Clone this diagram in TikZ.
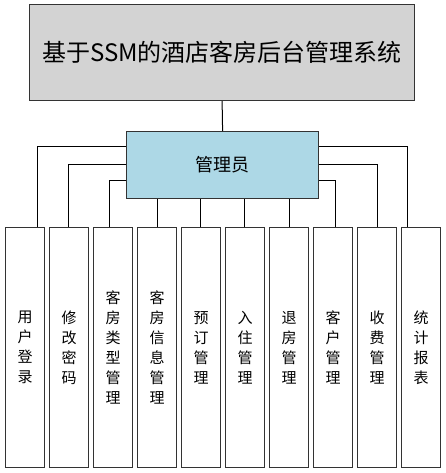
\documentclass[tikz,border=0pt]{standalone}
\usepackage{fontspec}
\setmainfont{Noto Sans CJK SC}
\definecolor{topfill}{HTML}{D3D3D3}
\definecolor{adminfill}{HTML}{ADD8E6}
\definecolor{edge}{HTML}{333333}
\begin{document}
\begin{tikzpicture}[x=1pt,y=-1pt,
  box/.style={draw=edge, line width=1.2pt, inner sep=0pt, anchor=north west},
  leaf/.style={box, fill=white, minimum width=39pt, minimum height=240pt, align=center,
    font=\fontsize{15}{20}\selectfont},
  conn/.style={line width=1pt, draw=black}]
\useasboundingbox (0,0) rectangle (445,473);
\node[box, fill=topfill, minimum width=385pt, minimum height=96pt,
  font=\fontsize{24}{28}\selectfont] (top) at (29,4) {基于SSM的酒店客房后台管理系统};
\node[box, fill=adminfill, minimum width=192pt, minimum height=67pt,
  font=\fontsize{18}{22}\selectfont] (admin) at (126,131) {管理员};
\node[leaf] (l1) at (5,227) {用\\户\\登\\录};
\node[leaf] (l2) at (49,227) {修\\改\\密\\码};
\node[leaf] (l3) at (93,227) {客\\房\\类\\型\\管\\理};
\node[leaf] (l4) at (137,227) {客\\房\\信\\息\\管\\理};
\node[leaf] (l5) at (181,227) {预\\订\\管\\理};
\node[leaf] (l6) at (225,227) {入\\住\\管\\理};
\node[leaf] (l7) at (269,227) {退\\房\\管\\理};
\node[leaf] (l8) at (313,227) {客\\户\\管\\理};
\node[leaf] (l9) at (357,227) {收\\费\\管\\理};
\node[leaf] (l10) at (401,227) {统\\计\\报\\表};
\coordinate (c1) at (37,147);
\coordinate (c2) at (68,164);
\coordinate (c3) at (109,180);
\coordinate (c4) at (157,0);
\coordinate (c5) at (200,0);
\coordinate (c6) at (244,0);
\coordinate (c7) at (289,0);
\coordinate (c8) at (335,180);
\coordinate (c9) at (377,164);
\coordinate (c10) at (407,147);
\draw[conn] (top.south) -- (admin.north);
\draw[conn] (admin.west |- c1) -| (l1.north -| c1);
\draw[conn] (admin.west |- c2) -| (l2.north -| c2);
\draw[conn] (admin.west |- c3) -| (l3.north -| c3);
\draw[conn] (admin.south -| c4) -- (l4.north -| c4);
\draw[conn] (admin.south -| c5) -- (l5.north -| c5);
\draw[conn] (admin.south -| c6) -- (l6.north -| c6);
\draw[conn] (admin.south -| c7) -- (l7.north -| c7);
\draw[conn] (admin.east |- c8) -| (l8.north -| c8);
\draw[conn] (admin.east |- c9) -| (l9.north -| c9);
\draw[conn] (admin.east |- c10) -| (l10.north -| c10);
\end{tikzpicture}
\end{document}
